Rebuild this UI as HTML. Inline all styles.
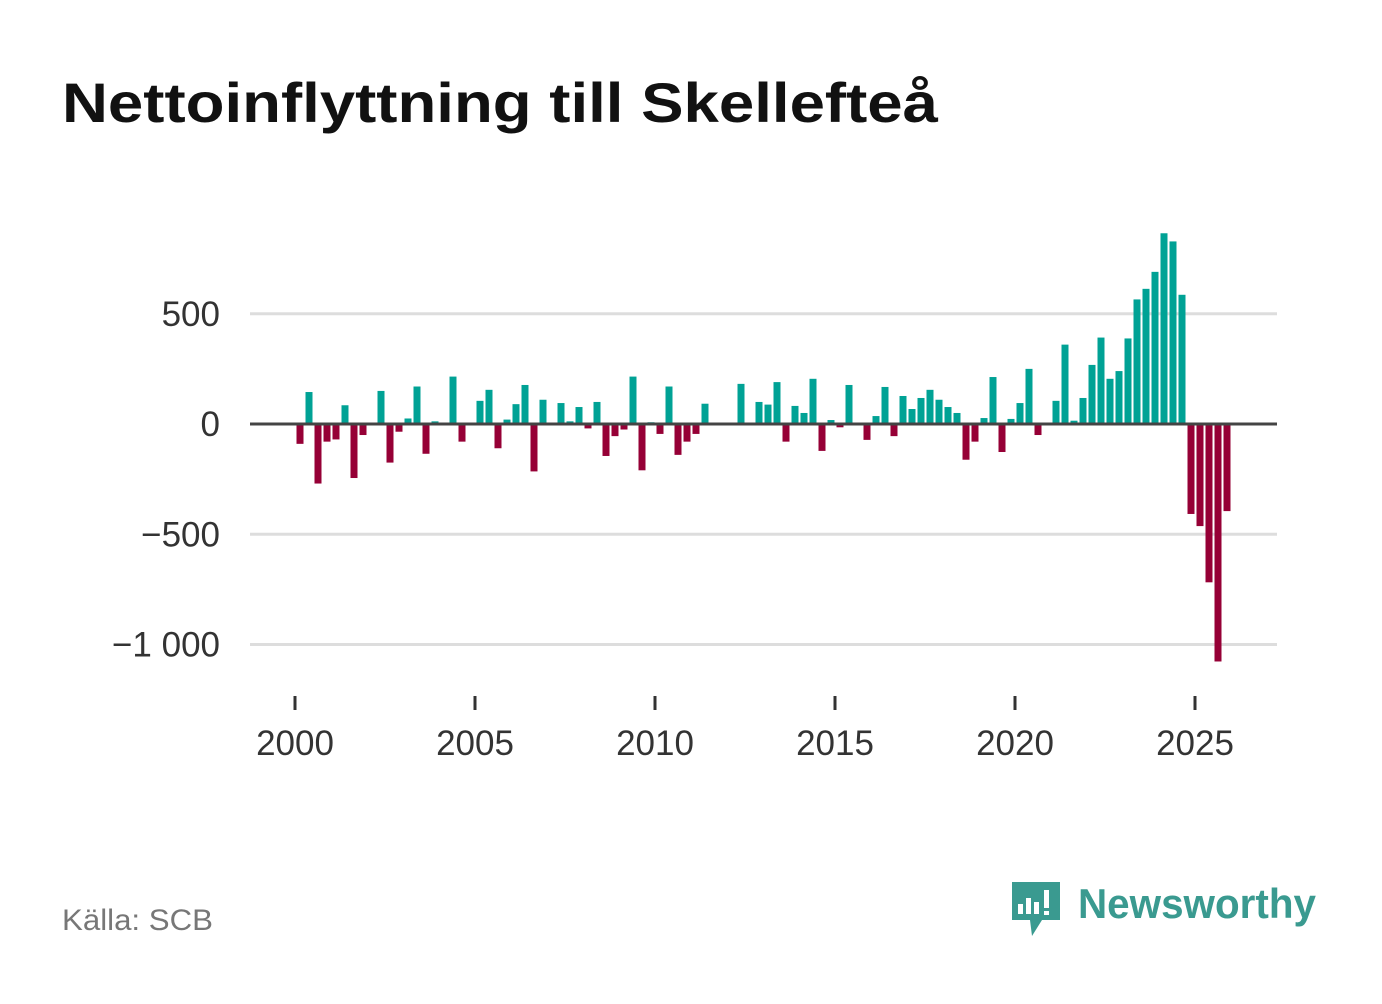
<!DOCTYPE html>
<html><head><meta charset="utf-8"><style>
body{margin:0;background:#fff;width:1382px;height:999px;overflow:hidden;font-family:"Liberation Sans",sans-serif}
</style></head><body>
<svg width="1382" height="999">
<text x="62" y="122" font-size="56" font-weight="bold" fill="#111" textLength="876" lengthAdjust="spacingAndGlyphs">Nettoinflyttning till Skellefteå</text>
<g id="grid"></g><g id="bars"></g><g id="xaxis"></g>
<text x="62" y="930" font-size="30" fill="#777" textLength="151" lengthAdjust="spacingAndGlyphs">Källa: SCB</text>
<g>
<path d="M1012 882 h48 v38 h-18 l-10 16 l-2 -16 h-18 z" fill="#3a9a90"/>
<rect x="1018" y="904" width="5" height="10" fill="#fff"/><rect x="1026" y="898" width="5" height="16" fill="#fff"/><rect x="1034" y="902" width="5" height="12" fill="#fff"/><rect x="1044" y="890" width="5" height="18" fill="#fff"/><rect x="1044" y="911" width="5" height="4" fill="#fff"/>
<text x="1078" y="918" font-size="42" font-weight="bold" fill="#3a9a90" textLength="238" lengthAdjust="spacingAndGlyphs">Newsworthy</text>
</g>
</svg>
<script>
const startYear=2000;
const values=[-90,145,-270,-80,-70,85,-245,-50,0,150,-175,-35,25,170,-135,12,0,215,-80,0,105,155,-110,20,90,177,-215,110,0,95,12,77,-20,100,-145,-55,-25,215,-210,8,-45,170,-140,-80,-45,92,0,0,0,182,0,100,88,190,-80,82,50,205,-122,18,-15,177,0,-72,36,168,-55,127,68,118,155,110,77,50,-162,-80,27,213,-127,23,95,250,-50,0,105,360,15,118,268,392,205,240,388,565,613,690,865,828,586,-408,-463,-718,-1077,-395];
const yTicks=[500,0,-500,-1000];
const yTickLabels=["500","0","−500","−1 000"];
const xTicks=[2000,2005,2010,2015,2020,2025];
const NS="http://www.w3.org/2000/svg";
function y(v){return 424-v*0.2205;}
function x(i){return 300+9*i;}
function xYear(yr){return 295+(yr-startYear)*36;}
function mk(t,a,p){const e=document.createElementNS(NS,t);for(const k in a)e.setAttribute(k,a[k]);p.appendChild(e);return e;}
const grid=document.getElementById('grid');
yTicks.forEach((t,k)=>{
 if(t!==0){const l=mk('line',{x1:250,x2:1277,y1:y(t),y2:y(t),stroke:'#ddd','stroke-width':3},grid);
 
 }
 const tx=mk('text',{x:220,y:y(t)+12,'text-anchor':'end','font-size':35,fill:'#333'},grid);
 tx.textContent=yTickLabels[k];
 
 
});
const bars=document.getElementById('bars');
values.forEach((v,i)=>{
 if(v===0)return;
 const r=mk('rect',{x:x(i)-3.5,width:7,y:Math.min(y(v),y(0)),height:Math.abs(y(v)-y(0)),fill:v>0?'#00a295':'#960036'},bars);
 
 
});
const zl=mk('line',{x1:250,x2:1277,y1:y(0),y2:y(0),stroke:'#444','stroke-width':3},bars);


const xa=document.getElementById('xaxis');
xTicks.forEach(t=>{
 const l=mk('line',{x1:xYear(t),x2:xYear(t),y1:696,y2:710,stroke:'#333','stroke-width':3},xa);
 
 
 const tx=mk('text',{x:xYear(t),y:755,'text-anchor':'middle','font-size':35,fill:'#333'},xa);
 tx.textContent=t;
 
 
});
</script>
</body></html>
